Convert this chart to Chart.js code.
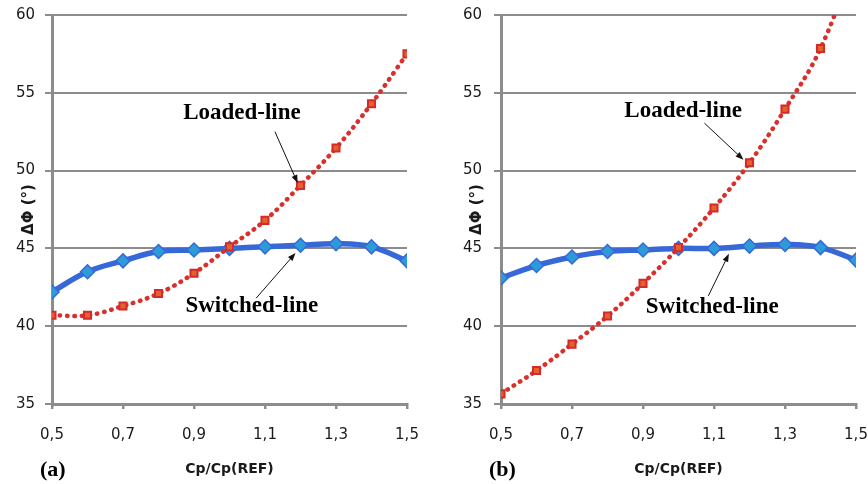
<!DOCTYPE html>
<html>
<head>
<meta charset="utf-8">
<script src="https://cdn.jsdelivr.net/npm/chart.js@4.4.0/dist/chart.umd.min.js"></script>
<style>
  html, body { margin: 0; padding: 0; background: #fff; }
  #wrap { position: relative; width: 868px; height: 484px; }
  .panel { position: absolute; top: 0; width: 434px; height: 484px; }
</style>
</head>
<body>
<div id="wrap">
  <div class="panel" style="left:0"><canvas id="chartA"></canvas></div>
  <div class="panel" style="left:434px"><canvas id="chartB"></canvas></div>
</div>
<script>
// Cp/Cp(REF) ratios
const ratios = [0.5, 0.6, 0.7, 0.8, 0.9, 1.0, 1.1, 1.2, 1.3, 1.4, 1.5];

// panel (a)
const switchedA = [42.2, 43.5, 44.2, 44.8, 44.9, 45.0, 45.1, 45.2, 45.3, 45.1, 44.2];
const loadedA = [40.7, 40.7, 41.3, 42.1, 43.4, 45.1, 46.8, 49.05, 51.45, 54.3, 57.5];

// panel (b)
const switchedB = [43.1, 43.9, 44.45, 44.8, 44.9, 45.0, 45.0, 45.15, 45.25, 45.05, 44.25];
const loadedB = [35.65, 37.15, 38.85, 40.65, 42.75, 45.05, 47.6, 50.5, 53.95, 57.85, 63.8];

const xTicks = [0.5, 0.7, 0.9, 1.1, 1.3, 1.5];
const yTicks = [35, 40, 45, 50, 55, 60];

const GRID = '#8c8c8c';
const TEXT = '#1a1a1a';

// callouts in data coordinates
const notesA = {
  panel: '(a)',
  yTitleOffset: 23,
  labels: [
    { text: 'Loaded-line', x: 1.035, y: 53.7, fromX: 1.128, fromY: 52.5, toX: 1.192, toY: 49.2 },
    { text: 'Switched-line', x: 1.063, y: 41.3, fromX: 1.075, fromY: 41.8, toX: 1.186, toY: 44.7 }
  ]
};
const notesB = {
  panel: '(b)',
  yTitleOffset: 24,
  labels: [
    { text: 'Loaded-line', x: 1.013, y: 53.8, fromX: 1.073, fromY: 53.05, toX: 1.183, toY: 50.7 },
    { text: 'Switched-line', x: 1.095, y: 41.2, fromX: 1.084, fromY: 41.95, toX: 1.142, toY: 44.65 }
  ]
};

const calloutPlugin = {
  id: 'callouts',
  afterDraw(chart) {
    const notes = chart.options.plugins.callouts;
    if (!notes) return;
    const { ctx, chartArea, scales } = chart;
    const xs = scales.x, ys = scales.y;
    ctx.save();

    // arrows
    ctx.strokeStyle = '#111';
    ctx.fillStyle = '#111';
    ctx.lineWidth = 1;
    notes.labels.forEach(n => {
      const x1 = xs.getPixelForValue(n.fromX), y1 = ys.getPixelForValue(n.fromY);
      const x2 = xs.getPixelForValue(n.toX), y2 = ys.getPixelForValue(n.toY);
      const a = Math.atan2(y2 - y1, x2 - x1);
      ctx.beginPath();
      ctx.moveTo(x1, y1);
      ctx.lineTo(x2 - 6 * Math.cos(a), y2 - 6 * Math.sin(a));
      ctx.stroke();
      ctx.beginPath();
      ctx.moveTo(x2, y2);
      ctx.lineTo(x2 - 8 * Math.cos(a) + 3 * Math.sin(a), y2 - 8 * Math.sin(a) - 3 * Math.cos(a));
      ctx.lineTo(x2 - 8 * Math.cos(a) - 3 * Math.sin(a), y2 - 8 * Math.sin(a) + 3 * Math.cos(a));
      ctx.closePath();
      ctx.fill();
    });

    // series labels
    ctx.fillStyle = '#000';
    ctx.font = 'bold 23px "Liberation Serif", "Times New Roman", serif';
    ctx.textAlign = 'center';
    ctx.textBaseline = 'middle';
    notes.labels.forEach(n => {
      ctx.fillText(n.text, xs.getPixelForValue(n.x), ys.getPixelForValue(n.y));
    });

    // axis titles
    ctx.fillStyle = TEXT;
    ctx.font = 'bold 14px "DejaVu Sans", Verdana, sans-serif';
    ctx.fillText('Cp/Cp(REF)', (chartArea.left + chartArea.right) / 2, 469);
    ctx.save();
    ctx.translate(chartArea.left - notes.yTitleOffset, ys.getPixelForValue(47.5));
    ctx.rotate(-Math.PI / 2);
    ctx.font = 'bold 15px "DejaVu Sans", Verdana, sans-serif';
    ctx.fillText('ΔΦ (°)', 0, 0);
    ctx.restore();

    // panel letter
    ctx.fillStyle = '#000';
    ctx.font = 'bold 22px "Liberation Serif", "Times New Roman", serif';
    ctx.textAlign = 'left';
    ctx.fillText(notes.panel, chartArea.left - 12, 470);

    ctx.restore();
  }
};

function toPoints(values) {
  return ratios.map((r, i) => ({ x: r, y: values[i] }));
}

function makeChart(id, switched, loaded, notes, yWidth, rightPad, yPad) {
  return new Chart(document.getElementById(id), {
    type: 'line',
    data: {
      datasets: [{
        label: 'Switched-line',
        data: toPoints(switched),
        borderColor: '#3768d8',
        borderWidth: 5.5,
        tension: 0.4,
        pointStyle: 'rectRot',
        pointRadius: 7,
        pointHoverRadius: 7,
        pointBackgroundColor: '#2d9bd9',
        pointBorderColor: '#3768d8',
        pointBorderWidth: 1.5,
        order: 2
      }, {
        label: 'Loaded-line',
        data: toPoints(loaded),
        borderColor: '#d8302c',
        borderWidth: 4.5,
        borderDash: [0.5, 7],
        borderCapStyle: 'round',
        tension: 0.4,
        pointStyle: 'rect',
        pointRadius: 5,
        pointHoverRadius: 5,
        pointBackgroundColor: '#e2612c',
        pointBorderColor: '#d42a2a',
        pointBorderWidth: 2,
        order: 1
      }]
    },
    options: {
      responsive: true,
      maintainAspectRatio: false,
      animation: false,
      layout: { padding: { top: 15, right: rightPad, left: 0, bottom: 0 } },
      plugins: {
        legend: { display: false },
        tooltip: { enabled: false },
        callouts: notes
      },
      scales: {
        x: {
          type: 'linear',
          min: 0.5,
          max: 1.5,
          afterBuildTicks: axis => { axis.ticks = xTicks.map(v => ({ value: v })); },
          afterFit: axis => {
            axis.height = 80;
            axis.paddingLeft = 0;
            axis.paddingRight = 0;
          },
          ticks: {
            color: TEXT,
            padding: 17,
            maxRotation: 0,
            font: { family: '"DejaVu Sans", Verdana, sans-serif', size: 15 },
            callback: v => v.toFixed(1).replace('.', ',')
          },
          grid: { drawOnChartArea: false, color: GRID, lineWidth: 2.5, tickLength: 5 },
          border: { color: GRID, width: 3 }
        },
        y: {
          min: 35,
          max: 60,
          afterBuildTicks: axis => { axis.ticks = yTicks.map(v => ({ value: v })); },
          afterFit: axis => {
            axis.width = yWidth;
            axis.paddingTop = 0;
            axis.paddingBottom = 0;
          },
          ticks: {
            color: TEXT,
            padding: yPad,
            font: { family: '"DejaVu Sans", Verdana, sans-serif', size: 15 }
          },
          grid: { color: GRID, lineWidth: 2, tickLength: 7 },
          border: { color: GRID, width: 3 }
        }
      }
    },
    plugins: [calloutPlugin]
  });
}

makeChart('chartA', switchedA, loadedA, notesA, 52, 27, 10);
makeChart('chartB', switchedB, loadedB, notesB, 67, 12, 12);
</script>
</body>
</html>
